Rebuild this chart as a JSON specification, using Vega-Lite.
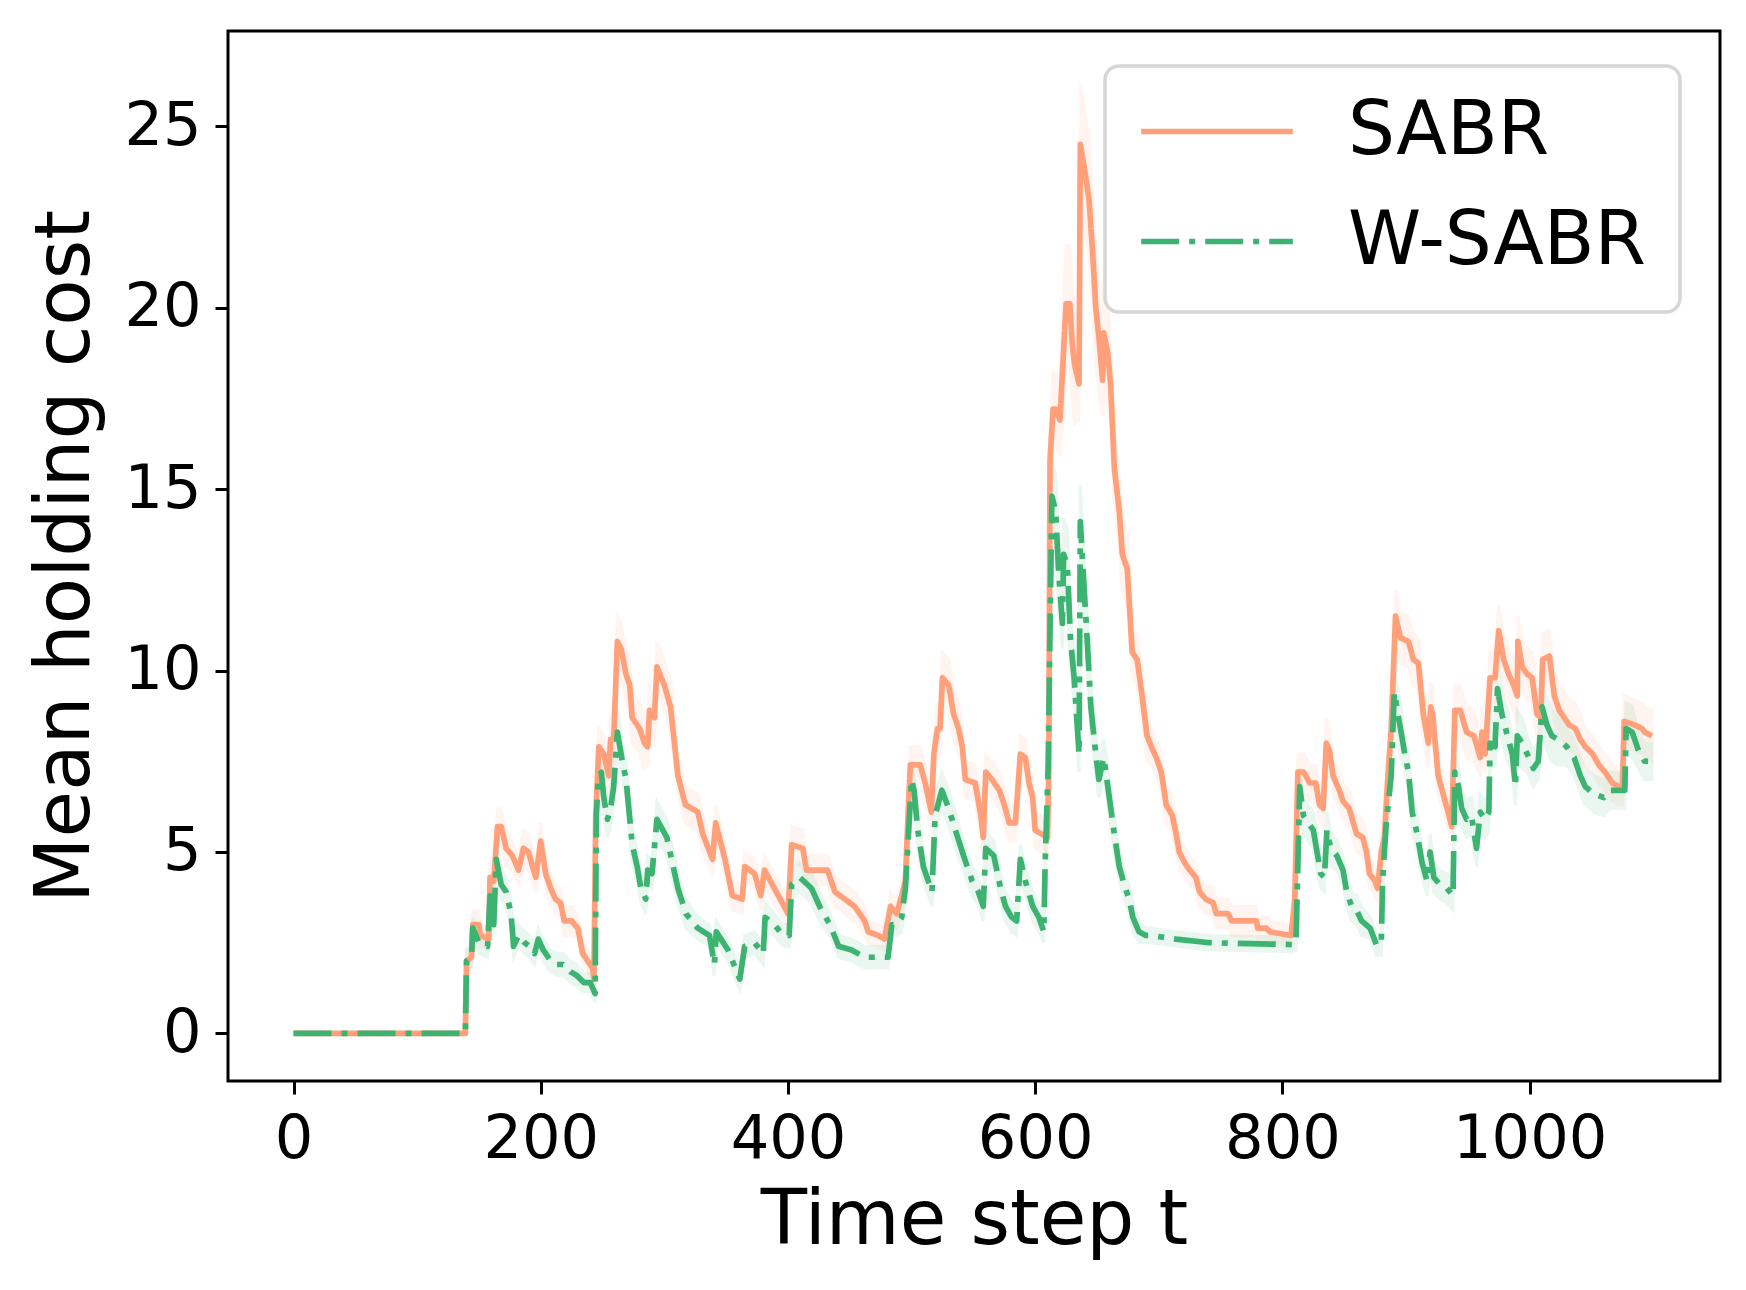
{
  "$schema": "https://vega.github.io/schema/vega-lite/v6.json",
  "width": 1492,
  "height": 1050,
  "autosize": "none",
  "padding": {"left": 228, "top": 31, "right": 26, "bottom": 209},
  "background": "white",
  "data": {
    "values": [
      {"m": "SABR", "t": 0, "v": 0, "lo": 0, "hi": 0},
      {"m": "SABR", "t": 139, "v": 0, "lo": 0, "hi": 0},
      {"m": "SABR", "t": 140, "v": 2.0, "lo": 1.7, "hi": 2.3},
      {"m": "SABR", "t": 144, "v": 2.1, "lo": 1.8, "hi": 2.4},
      {"m": "SABR", "t": 145, "v": 3.0, "lo": 2.6, "hi": 3.4},
      {"m": "SABR", "t": 150, "v": 3.0, "lo": 2.6, "hi": 3.4},
      {"m": "SABR", "t": 151, "v": 2.7, "lo": 2.4, "hi": 3.0},
      {"m": "SABR", "t": 158, "v": 2.6, "lo": 2.3, "hi": 2.9},
      {"m": "SABR", "t": 159, "v": 4.3, "lo": 3.9, "hi": 4.7},
      {"m": "SABR", "t": 162, "v": 4.2, "lo": 3.8, "hi": 4.6},
      {"m": "SABR", "t": 165, "v": 5.7, "lo": 5.2, "hi": 6.2},
      {"m": "SABR", "t": 168, "v": 5.7, "lo": 5.2, "hi": 6.2},
      {"m": "SABR", "t": 172, "v": 5.1, "lo": 4.6, "hi": 5.6},
      {"m": "SABR", "t": 177, "v": 4.9, "lo": 4.5, "hi": 5.3},
      {"m": "SABR", "t": 182, "v": 4.5, "lo": 4.1, "hi": 4.9},
      {"m": "SABR", "t": 186, "v": 5.1, "lo": 4.6, "hi": 5.6},
      {"m": "SABR", "t": 190, "v": 5.0, "lo": 4.5, "hi": 5.5},
      {"m": "SABR", "t": 196, "v": 4.3, "lo": 3.9, "hi": 4.7},
      {"m": "SABR", "t": 200, "v": 5.3, "lo": 4.8, "hi": 5.8},
      {"m": "SABR", "t": 204, "v": 4.4, "lo": 4.0, "hi": 4.8},
      {"m": "SABR", "t": 208, "v": 4.0, "lo": 3.6, "hi": 4.4},
      {"m": "SABR", "t": 212, "v": 3.7, "lo": 3.3, "hi": 4.1},
      {"m": "SABR", "t": 216, "v": 3.6, "lo": 3.2, "hi": 4.0},
      {"m": "SABR", "t": 219, "v": 3.1, "lo": 2.7, "hi": 3.5},
      {"m": "SABR", "t": 225, "v": 3.1, "lo": 2.7, "hi": 3.5},
      {"m": "SABR", "t": 230, "v": 2.9, "lo": 2.6, "hi": 3.2},
      {"m": "SABR", "t": 234, "v": 2.2, "lo": 1.9, "hi": 2.5},
      {"m": "SABR", "t": 238, "v": 2.0, "lo": 1.7, "hi": 2.3},
      {"m": "SABR", "t": 242, "v": 1.8, "lo": 1.5, "hi": 2.1},
      {"m": "SABR", "t": 243, "v": 1.5, "lo": 1.25, "hi": 1.75},
      {"m": "SABR", "t": 244.5, "v": 6.0, "lo": 5.5, "hi": 6.5},
      {"m": "SABR", "t": 247, "v": 7.9, "lo": 7.4, "hi": 8.4},
      {"m": "SABR", "t": 251, "v": 7.7, "lo": 7.2, "hi": 8.2},
      {"m": "SABR", "t": 255, "v": 7.1, "lo": 6.6, "hi": 7.6},
      {"m": "SABR", "t": 256.5, "v": 8.1, "lo": 7.4, "hi": 8.8},
      {"m": "SABR", "t": 259, "v": 8.1, "lo": 7.4, "hi": 8.8},
      {"m": "SABR", "t": 262, "v": 10.8, "lo": 10.1, "hi": 11.5},
      {"m": "SABR", "t": 265, "v": 10.6, "lo": 9.9, "hi": 11.3},
      {"m": "SABR", "t": 269, "v": 9.9, "lo": 9.2, "hi": 10.6},
      {"m": "SABR", "t": 272, "v": 9.6, "lo": 8.9, "hi": 10.3},
      {"m": "SABR", "t": 274, "v": 8.7, "lo": 8.0, "hi": 9.4},
      {"m": "SABR", "t": 280, "v": 8.4, "lo": 7.7, "hi": 9.1},
      {"m": "SABR", "t": 284, "v": 8.0, "lo": 7.3, "hi": 8.7},
      {"m": "SABR", "t": 286.5, "v": 7.9, "lo": 7.4, "hi": 8.4},
      {"m": "SABR", "t": 288, "v": 8.9, "lo": 8.2, "hi": 9.6},
      {"m": "SABR", "t": 292, "v": 8.7, "lo": 8.0, "hi": 9.4},
      {"m": "SABR", "t": 294, "v": 10.1, "lo": 9.4, "hi": 10.8},
      {"m": "SABR", "t": 300, "v": 9.6, "lo": 8.9, "hi": 10.3},
      {"m": "SABR", "t": 305, "v": 9.0, "lo": 8.3, "hi": 9.7},
      {"m": "SABR", "t": 311, "v": 7.1, "lo": 6.6, "hi": 7.6},
      {"m": "SABR", "t": 317, "v": 6.3, "lo": 5.8, "hi": 6.8},
      {"m": "SABR", "t": 327, "v": 6.1, "lo": 5.6, "hi": 6.6},
      {"m": "SABR", "t": 331, "v": 5.5, "lo": 5.0, "hi": 6.0},
      {"m": "SABR", "t": 339, "v": 4.8, "lo": 4.4, "hi": 5.2},
      {"m": "SABR", "t": 341.5, "v": 5.8, "lo": 5.3, "hi": 6.3},
      {"m": "SABR", "t": 349, "v": 4.8, "lo": 4.4, "hi": 5.2},
      {"m": "SABR", "t": 355, "v": 3.8, "lo": 3.4, "hi": 4.2},
      {"m": "SABR", "t": 363, "v": 3.7, "lo": 3.3, "hi": 4.1},
      {"m": "SABR", "t": 365, "v": 4.6, "lo": 4.2, "hi": 5.0},
      {"m": "SABR", "t": 373, "v": 4.4, "lo": 4.0, "hi": 4.8},
      {"m": "SABR", "t": 378, "v": 3.8, "lo": 3.4, "hi": 4.2},
      {"m": "SABR", "t": 381, "v": 4.5, "lo": 4.1, "hi": 4.9},
      {"m": "SABR", "t": 389, "v": 4.0, "lo": 3.6, "hi": 4.4},
      {"m": "SABR", "t": 397, "v": 3.5, "lo": 3.1, "hi": 3.9},
      {"m": "SABR", "t": 400, "v": 3.3, "lo": 2.9, "hi": 3.7},
      {"m": "SABR", "t": 403, "v": 5.2, "lo": 4.7, "hi": 5.7},
      {"m": "SABR", "t": 412, "v": 5.1, "lo": 4.6, "hi": 5.6},
      {"m": "SABR", "t": 415, "v": 4.5, "lo": 4.1, "hi": 4.9},
      {"m": "SABR", "t": 432, "v": 4.5, "lo": 4.1, "hi": 4.9},
      {"m": "SABR", "t": 438, "v": 3.9, "lo": 3.5, "hi": 4.3},
      {"m": "SABR", "t": 446, "v": 3.7, "lo": 3.3, "hi": 4.1},
      {"m": "SABR", "t": 454, "v": 3.5, "lo": 3.1, "hi": 3.9},
      {"m": "SABR", "t": 462, "v": 3.1, "lo": 2.7, "hi": 3.5},
      {"m": "SABR", "t": 465, "v": 2.8, "lo": 2.5, "hi": 3.1},
      {"m": "SABR", "t": 473, "v": 2.7, "lo": 2.4, "hi": 3.0},
      {"m": "SABR", "t": 478, "v": 2.6, "lo": 2.3, "hi": 2.9},
      {"m": "SABR", "t": 483, "v": 3.5, "lo": 3.1, "hi": 3.9},
      {"m": "SABR", "t": 488, "v": 3.3, "lo": 2.9, "hi": 3.7},
      {"m": "SABR", "t": 492, "v": 3.8, "lo": 3.4, "hi": 4.2},
      {"m": "SABR", "t": 495, "v": 4.2, "lo": 3.8, "hi": 4.6},
      {"m": "SABR", "t": 497, "v": 5.9, "lo": 5.4, "hi": 6.4},
      {"m": "SABR", "t": 499, "v": 7.4, "lo": 6.9, "hi": 7.9},
      {"m": "SABR", "t": 507, "v": 7.4, "lo": 6.9, "hi": 7.9},
      {"m": "SABR", "t": 511, "v": 6.9, "lo": 6.4, "hi": 7.4},
      {"m": "SABR", "t": 516, "v": 6.1, "lo": 5.6, "hi": 6.6},
      {"m": "SABR", "t": 518, "v": 7.7, "lo": 7.2, "hi": 8.2},
      {"m": "SABR", "t": 521, "v": 8.4, "lo": 7.7, "hi": 9.1},
      {"m": "SABR", "t": 523, "v": 8.4, "lo": 7.7, "hi": 9.1},
      {"m": "SABR", "t": 525, "v": 9.8, "lo": 9.1, "hi": 10.5},
      {"m": "SABR", "t": 530, "v": 9.6, "lo": 8.9, "hi": 10.3},
      {"m": "SABR", "t": 534, "v": 8.8, "lo": 8.1, "hi": 9.5},
      {"m": "SABR", "t": 538, "v": 8.4, "lo": 7.7, "hi": 9.1},
      {"m": "SABR", "t": 541, "v": 7.9, "lo": 7.4, "hi": 8.4},
      {"m": "SABR", "t": 543.5, "v": 7.0, "lo": 6.5, "hi": 7.5},
      {"m": "SABR", "t": 551.5, "v": 6.9, "lo": 6.4, "hi": 7.4},
      {"m": "SABR", "t": 556, "v": 6.0, "lo": 5.5, "hi": 6.5},
      {"m": "SABR", "t": 558, "v": 5.4, "lo": 4.9, "hi": 5.9},
      {"m": "SABR", "t": 560, "v": 7.2, "lo": 6.7, "hi": 7.7},
      {"m": "SABR", "t": 565, "v": 7.0, "lo": 6.5, "hi": 7.5},
      {"m": "SABR", "t": 571, "v": 6.7, "lo": 6.2, "hi": 7.2},
      {"m": "SABR", "t": 575, "v": 6.3, "lo": 5.8, "hi": 6.8},
      {"m": "SABR", "t": 579, "v": 5.8, "lo": 5.3, "hi": 6.3},
      {"m": "SABR", "t": 584, "v": 5.8, "lo": 5.3, "hi": 6.3},
      {"m": "SABR", "t": 588, "v": 7.7, "lo": 7.2, "hi": 8.2},
      {"m": "SABR", "t": 592, "v": 7.6, "lo": 7.1, "hi": 8.1},
      {"m": "SABR", "t": 595, "v": 6.9, "lo": 6.4, "hi": 7.4},
      {"m": "SABR", "t": 598, "v": 6.5, "lo": 6.0, "hi": 7.0},
      {"m": "SABR", "t": 600, "v": 5.6, "lo": 5.1, "hi": 6.1},
      {"m": "SABR", "t": 610, "v": 5.4, "lo": 4.9, "hi": 5.9},
      {"m": "SABR", "t": 611, "v": 7.2, "lo": 6.7, "hi": 7.7},
      {"m": "SABR", "t": 612, "v": 15.8, "lo": 14.8, "hi": 16.8},
      {"m": "SABR", "t": 614.5, "v": 17.2, "lo": 16.2, "hi": 18.2},
      {"m": "SABR", "t": 617, "v": 17.2, "lo": 16.2, "hi": 18.2},
      {"m": "SABR", "t": 620, "v": 16.9, "lo": 15.9, "hi": 17.9},
      {"m": "SABR", "t": 622.5, "v": 18.5, "lo": 16.9, "hi": 20.1},
      {"m": "SABR", "t": 625, "v": 20.1, "lo": 18.5, "hi": 21.7},
      {"m": "SABR", "t": 628, "v": 20.1, "lo": 18.5, "hi": 21.7},
      {"m": "SABR", "t": 630, "v": 19.0, "lo": 17.4, "hi": 20.6},
      {"m": "SABR", "t": 632, "v": 18.4, "lo": 16.8, "hi": 20.0},
      {"m": "SABR", "t": 635.5, "v": 17.9, "lo": 16.9, "hi": 18.9},
      {"m": "SABR", "t": 636.5, "v": 24.5, "lo": 22.9, "hi": 26.1},
      {"m": "SABR", "t": 639.5, "v": 23.9, "lo": 22.3, "hi": 25.5},
      {"m": "SABR", "t": 643.5, "v": 23.0, "lo": 21.4, "hi": 24.6},
      {"m": "SABR", "t": 646.5, "v": 21.5, "lo": 19.9, "hi": 23.1},
      {"m": "SABR", "t": 649, "v": 20.0, "lo": 18.4, "hi": 21.6},
      {"m": "SABR", "t": 651.5, "v": 19.2, "lo": 17.6, "hi": 20.8},
      {"m": "SABR", "t": 654.5, "v": 18.0, "lo": 17.0, "hi": 19.0},
      {"m": "SABR", "t": 655.5, "v": 19.3, "lo": 17.7, "hi": 20.9},
      {"m": "SABR", "t": 658.5, "v": 18.8, "lo": 17.2, "hi": 20.4},
      {"m": "SABR", "t": 661, "v": 17.9, "lo": 16.9, "hi": 18.9},
      {"m": "SABR", "t": 664, "v": 15.6, "lo": 14.6, "hi": 16.6},
      {"m": "SABR", "t": 668, "v": 14.4, "lo": 13.4, "hi": 15.4},
      {"m": "SABR", "t": 670.5, "v": 13.2, "lo": 12.2, "hi": 14.2},
      {"m": "SABR", "t": 674.5, "v": 12.8, "lo": 11.8, "hi": 13.8},
      {"m": "SABR", "t": 678.5, "v": 10.5, "lo": 9.8, "hi": 11.2},
      {"m": "SABR", "t": 682.5, "v": 10.3, "lo": 9.6, "hi": 11.0},
      {"m": "SABR", "t": 686.5, "v": 9.3, "lo": 8.6, "hi": 10.0},
      {"m": "SABR", "t": 690.5, "v": 8.2, "lo": 7.5, "hi": 8.9},
      {"m": "SABR", "t": 694, "v": 7.9, "lo": 7.4, "hi": 8.4},
      {"m": "SABR", "t": 698, "v": 7.6, "lo": 7.1, "hi": 8.1},
      {"m": "SABR", "t": 702, "v": 7.2, "lo": 6.7, "hi": 7.7},
      {"m": "SABR", "t": 706, "v": 6.3, "lo": 5.8, "hi": 6.8},
      {"m": "SABR", "t": 711, "v": 6.0, "lo": 5.5, "hi": 6.5},
      {"m": "SABR", "t": 714, "v": 5.5, "lo": 5.0, "hi": 6.0},
      {"m": "SABR", "t": 716.5, "v": 5.0, "lo": 4.5, "hi": 5.5},
      {"m": "SABR", "t": 721, "v": 4.7, "lo": 4.3, "hi": 5.1},
      {"m": "SABR", "t": 725, "v": 4.5, "lo": 4.1, "hi": 4.9},
      {"m": "SABR", "t": 730, "v": 4.3, "lo": 3.9, "hi": 4.7},
      {"m": "SABR", "t": 733, "v": 3.9, "lo": 3.5, "hi": 4.3},
      {"m": "SABR", "t": 738, "v": 3.7, "lo": 3.3, "hi": 4.1},
      {"m": "SABR", "t": 744, "v": 3.6, "lo": 3.2, "hi": 4.0},
      {"m": "SABR", "t": 746.5, "v": 3.3, "lo": 2.9, "hi": 3.7},
      {"m": "SABR", "t": 756, "v": 3.3, "lo": 2.9, "hi": 3.7},
      {"m": "SABR", "t": 759, "v": 3.1, "lo": 2.7, "hi": 3.5},
      {"m": "SABR", "t": 779, "v": 3.1, "lo": 2.7, "hi": 3.5},
      {"m": "SABR", "t": 780, "v": 2.9, "lo": 2.6, "hi": 3.2},
      {"m": "SABR", "t": 787, "v": 2.9, "lo": 2.6, "hi": 3.2},
      {"m": "SABR", "t": 790, "v": 2.8, "lo": 2.5, "hi": 3.1},
      {"m": "SABR", "t": 807, "v": 2.7, "lo": 2.4, "hi": 3.0},
      {"m": "SABR", "t": 810, "v": 3.7, "lo": 3.3, "hi": 4.1},
      {"m": "SABR", "t": 812.5, "v": 7.2, "lo": 6.7, "hi": 7.7},
      {"m": "SABR", "t": 817, "v": 7.2, "lo": 6.7, "hi": 7.7},
      {"m": "SABR", "t": 819, "v": 7.1, "lo": 6.6, "hi": 7.6},
      {"m": "SABR", "t": 822, "v": 6.9, "lo": 6.4, "hi": 7.4},
      {"m": "SABR", "t": 827, "v": 6.9, "lo": 6.4, "hi": 7.4},
      {"m": "SABR", "t": 830, "v": 6.3, "lo": 5.8, "hi": 6.8},
      {"m": "SABR", "t": 833, "v": 6.2, "lo": 5.7, "hi": 6.7},
      {"m": "SABR", "t": 835.5, "v": 8.0, "lo": 7.3, "hi": 8.7},
      {"m": "SABR", "t": 838, "v": 7.8, "lo": 7.3, "hi": 8.3},
      {"m": "SABR", "t": 841, "v": 7.1, "lo": 6.6, "hi": 7.6},
      {"m": "SABR", "t": 846, "v": 6.7, "lo": 6.2, "hi": 7.2},
      {"m": "SABR", "t": 849, "v": 6.4, "lo": 5.9, "hi": 6.9},
      {"m": "SABR", "t": 854, "v": 6.2, "lo": 5.7, "hi": 6.7},
      {"m": "SABR", "t": 860, "v": 5.5, "lo": 5.0, "hi": 6.0},
      {"m": "SABR", "t": 865, "v": 5.4, "lo": 4.9, "hi": 5.9},
      {"m": "SABR", "t": 868, "v": 5.0, "lo": 4.5, "hi": 5.5},
      {"m": "SABR", "t": 870.5, "v": 4.4, "lo": 4.0, "hi": 4.8},
      {"m": "SABR", "t": 875, "v": 4.2, "lo": 3.8, "hi": 4.6},
      {"m": "SABR", "t": 877, "v": 4.0, "lo": 3.6, "hi": 4.4},
      {"m": "SABR", "t": 880, "v": 5.0, "lo": 4.5, "hi": 5.5},
      {"m": "SABR", "t": 882.5, "v": 5.4, "lo": 4.9, "hi": 5.9},
      {"m": "SABR", "t": 885, "v": 6.9, "lo": 6.4, "hi": 7.4},
      {"m": "SABR", "t": 888, "v": 8.4, "lo": 7.7, "hi": 9.1},
      {"m": "SABR", "t": 891.5, "v": 11.5, "lo": 10.8, "hi": 12.2},
      {"m": "SABR", "t": 895.5, "v": 10.9, "lo": 10.2, "hi": 11.6},
      {"m": "SABR", "t": 902, "v": 10.8, "lo": 10.1, "hi": 11.5},
      {"m": "SABR", "t": 906, "v": 10.3, "lo": 9.6, "hi": 11.0},
      {"m": "SABR", "t": 910, "v": 10.2, "lo": 9.5, "hi": 10.9},
      {"m": "SABR", "t": 914, "v": 8.8, "lo": 8.1, "hi": 9.5},
      {"m": "SABR", "t": 918, "v": 8.0, "lo": 7.3, "hi": 8.7},
      {"m": "SABR", "t": 920, "v": 9.0, "lo": 8.3, "hi": 9.7},
      {"m": "SABR", "t": 921.5, "v": 8.8, "lo": 8.1, "hi": 9.5},
      {"m": "SABR", "t": 926, "v": 7.1, "lo": 6.6, "hi": 7.6},
      {"m": "SABR", "t": 930, "v": 6.6, "lo": 6.1, "hi": 7.1},
      {"m": "SABR", "t": 934, "v": 6.1, "lo": 5.6, "hi": 6.6},
      {"m": "SABR", "t": 937, "v": 5.7, "lo": 5.2, "hi": 6.2},
      {"m": "SABR", "t": 939.5, "v": 8.9, "lo": 8.2, "hi": 9.6},
      {"m": "SABR", "t": 944, "v": 8.9, "lo": 8.2, "hi": 9.6},
      {"m": "SABR", "t": 949, "v": 8.3, "lo": 7.6, "hi": 9.0},
      {"m": "SABR", "t": 955, "v": 8.2, "lo": 7.5, "hi": 8.9},
      {"m": "SABR", "t": 960, "v": 7.6, "lo": 7.1, "hi": 8.1},
      {"m": "SABR", "t": 961.5, "v": 8.3, "lo": 7.6, "hi": 9.0},
      {"m": "SABR", "t": 964, "v": 7.7, "lo": 7.2, "hi": 8.2},
      {"m": "SABR", "t": 968, "v": 9.8, "lo": 9.1, "hi": 10.5},
      {"m": "SABR", "t": 972, "v": 9.8, "lo": 9.1, "hi": 10.5},
      {"m": "SABR", "t": 975, "v": 11.1, "lo": 10.4, "hi": 11.8},
      {"m": "SABR", "t": 979, "v": 10.3, "lo": 9.6, "hi": 11.0},
      {"m": "SABR", "t": 983, "v": 9.9, "lo": 9.2, "hi": 10.6},
      {"m": "SABR", "t": 987, "v": 9.6, "lo": 8.9, "hi": 10.3},
      {"m": "SABR", "t": 990, "v": 9.3, "lo": 8.6, "hi": 10.0},
      {"m": "SABR", "t": 990.5, "v": 10.8, "lo": 10.1, "hi": 11.5},
      {"m": "SABR", "t": 994, "v": 10.1, "lo": 9.4, "hi": 10.8},
      {"m": "SABR", "t": 998, "v": 9.9, "lo": 9.2, "hi": 10.6},
      {"m": "SABR", "t": 1002, "v": 9.8, "lo": 9.1, "hi": 10.5},
      {"m": "SABR", "t": 1006, "v": 8.8, "lo": 8.1, "hi": 9.5},
      {"m": "SABR", "t": 1009, "v": 8.7, "lo": 8.0, "hi": 9.4},
      {"m": "SABR", "t": 1010.5, "v": 10.3, "lo": 9.6, "hi": 11.0},
      {"m": "SABR", "t": 1016, "v": 10.4, "lo": 9.7, "hi": 11.1},
      {"m": "SABR", "t": 1018.5, "v": 9.7, "lo": 9.0, "hi": 10.4},
      {"m": "SABR", "t": 1020, "v": 9.3, "lo": 8.6, "hi": 10.0},
      {"m": "SABR", "t": 1024, "v": 8.9, "lo": 8.2, "hi": 9.6},
      {"m": "SABR", "t": 1028, "v": 8.7, "lo": 8.0, "hi": 9.4},
      {"m": "SABR", "t": 1032, "v": 8.5, "lo": 7.8, "hi": 9.2},
      {"m": "SABR", "t": 1037, "v": 8.4, "lo": 7.7, "hi": 9.1},
      {"m": "SABR", "t": 1041, "v": 8.1, "lo": 7.4, "hi": 8.8},
      {"m": "SABR", "t": 1045, "v": 7.9, "lo": 7.4, "hi": 8.4},
      {"m": "SABR", "t": 1051, "v": 7.7, "lo": 7.2, "hi": 8.2},
      {"m": "SABR", "t": 1056, "v": 7.4, "lo": 6.9, "hi": 7.9},
      {"m": "SABR", "t": 1061, "v": 7.2, "lo": 6.7, "hi": 7.7},
      {"m": "SABR", "t": 1067, "v": 6.9, "lo": 6.4, "hi": 7.4},
      {"m": "SABR", "t": 1072, "v": 6.8, "lo": 6.3, "hi": 7.3},
      {"m": "SABR", "t": 1075, "v": 6.8, "lo": 6.3, "hi": 7.3},
      {"m": "SABR", "t": 1076.5, "v": 8.6, "lo": 7.9, "hi": 9.3},
      {"m": "SABR", "t": 1085, "v": 8.5, "lo": 7.8, "hi": 9.2},
      {"m": "SABR", "t": 1091, "v": 8.4, "lo": 7.7, "hi": 9.1},
      {"m": "SABR", "t": 1093, "v": 8.3, "lo": 7.6, "hi": 9.0},
      {"m": "SABR", "t": 1099, "v": 8.2, "lo": 7.5, "hi": 8.9},
      {"m": "W-SABR", "t": 0, "v": 0, "lo": 0, "hi": 0},
      {"m": "W-SABR", "t": 139, "v": 0, "lo": 0, "hi": 0},
      {"m": "W-SABR", "t": 140, "v": 2.0, "lo": 1.7, "hi": 2.3},
      {"m": "W-SABR", "t": 144, "v": 2.1, "lo": 1.8, "hi": 2.4},
      {"m": "W-SABR", "t": 145, "v": 2.9, "lo": 2.6, "hi": 3.2},
      {"m": "W-SABR", "t": 150, "v": 2.5, "lo": 2.2, "hi": 2.8},
      {"m": "W-SABR", "t": 157, "v": 2.4, "lo": 2.1, "hi": 2.7},
      {"m": "W-SABR", "t": 159, "v": 3.8, "lo": 3.4, "hi": 4.2},
      {"m": "W-SABR", "t": 162, "v": 3.0, "lo": 2.7, "hi": 3.3},
      {"m": "W-SABR", "t": 164, "v": 4.8, "lo": 4.4, "hi": 5.2},
      {"m": "W-SABR", "t": 168, "v": 4.1, "lo": 3.7, "hi": 4.5},
      {"m": "W-SABR", "t": 172, "v": 3.9, "lo": 3.5, "hi": 4.3},
      {"m": "W-SABR", "t": 176, "v": 3.3, "lo": 2.9, "hi": 3.7},
      {"m": "W-SABR", "t": 178, "v": 2.4, "lo": 2.1, "hi": 2.7},
      {"m": "W-SABR", "t": 182, "v": 2.7, "lo": 2.4, "hi": 3.0},
      {"m": "W-SABR", "t": 187, "v": 2.5, "lo": 2.2, "hi": 2.8},
      {"m": "W-SABR", "t": 191, "v": 2.4, "lo": 2.1, "hi": 2.7},
      {"m": "W-SABR", "t": 195, "v": 2.2, "lo": 1.9, "hi": 2.5},
      {"m": "W-SABR", "t": 198, "v": 2.6, "lo": 2.3, "hi": 2.9},
      {"m": "W-SABR", "t": 202, "v": 2.3, "lo": 2.0, "hi": 2.6},
      {"m": "W-SABR", "t": 208, "v": 2.0, "lo": 1.7, "hi": 2.3},
      {"m": "W-SABR", "t": 213, "v": 1.9, "lo": 1.6, "hi": 2.2},
      {"m": "W-SABR", "t": 218, "v": 1.9, "lo": 1.6, "hi": 2.2},
      {"m": "W-SABR", "t": 224, "v": 1.7, "lo": 1.4, "hi": 2.0},
      {"m": "W-SABR", "t": 229, "v": 1.6, "lo": 1.3, "hi": 1.9},
      {"m": "W-SABR", "t": 235, "v": 1.4, "lo": 1.15, "hi": 1.65},
      {"m": "W-SABR", "t": 240, "v": 1.4, "lo": 1.15, "hi": 1.65},
      {"m": "W-SABR", "t": 244, "v": 1.1, "lo": 0.85, "hi": 1.35},
      {"m": "W-SABR", "t": 245, "v": 6.0, "lo": 5.5, "hi": 6.5},
      {"m": "W-SABR", "t": 246.5, "v": 7.0, "lo": 6.5, "hi": 7.5},
      {"m": "W-SABR", "t": 249, "v": 7.2, "lo": 6.7, "hi": 7.7},
      {"m": "W-SABR", "t": 251, "v": 6.5, "lo": 6.0, "hi": 7.0},
      {"m": "W-SABR", "t": 254, "v": 5.9, "lo": 5.4, "hi": 6.4},
      {"m": "W-SABR", "t": 256.5, "v": 6.2, "lo": 5.7, "hi": 6.7},
      {"m": "W-SABR", "t": 259, "v": 6.8, "lo": 6.3, "hi": 7.3},
      {"m": "W-SABR", "t": 262, "v": 8.3, "lo": 7.6, "hi": 9.0},
      {"m": "W-SABR", "t": 266, "v": 7.5, "lo": 7.0, "hi": 8.0},
      {"m": "W-SABR", "t": 269, "v": 7.0, "lo": 6.5, "hi": 7.5},
      {"m": "W-SABR", "t": 271.5, "v": 6.1, "lo": 5.6, "hi": 6.6},
      {"m": "W-SABR", "t": 274, "v": 5.2, "lo": 4.7, "hi": 5.7},
      {"m": "W-SABR", "t": 278, "v": 4.6, "lo": 4.2, "hi": 5.0},
      {"m": "W-SABR", "t": 281, "v": 4.0, "lo": 3.6, "hi": 4.4},
      {"m": "W-SABR", "t": 285, "v": 3.7, "lo": 3.3, "hi": 4.1},
      {"m": "W-SABR", "t": 286.5, "v": 4.5, "lo": 4.1, "hi": 4.9},
      {"m": "W-SABR", "t": 290, "v": 4.4, "lo": 4.0, "hi": 4.8},
      {"m": "W-SABR", "t": 294, "v": 5.9, "lo": 5.4, "hi": 6.4},
      {"m": "W-SABR", "t": 302, "v": 5.4, "lo": 4.9, "hi": 5.9},
      {"m": "W-SABR", "t": 311, "v": 4.0, "lo": 3.6, "hi": 4.4},
      {"m": "W-SABR", "t": 317.5, "v": 3.3, "lo": 2.9, "hi": 3.7},
      {"m": "W-SABR", "t": 327, "v": 2.9, "lo": 2.6, "hi": 3.2},
      {"m": "W-SABR", "t": 336.5, "v": 2.7, "lo": 2.4, "hi": 3.0},
      {"m": "W-SABR", "t": 340.5, "v": 1.9, "lo": 1.6, "hi": 2.2},
      {"m": "W-SABR", "t": 342, "v": 2.8, "lo": 2.5, "hi": 3.1},
      {"m": "W-SABR", "t": 351.5, "v": 2.3, "lo": 2.0, "hi": 2.6},
      {"m": "W-SABR", "t": 361, "v": 1.5, "lo": 1.2, "hi": 1.8},
      {"m": "W-SABR", "t": 365, "v": 2.4, "lo": 2.1, "hi": 2.7},
      {"m": "W-SABR", "t": 373, "v": 2.5, "lo": 2.2, "hi": 2.8},
      {"m": "W-SABR", "t": 380, "v": 2.2, "lo": 1.9, "hi": 2.5},
      {"m": "W-SABR", "t": 381.5, "v": 3.2, "lo": 2.8, "hi": 3.6},
      {"m": "W-SABR", "t": 389, "v": 3.0, "lo": 2.7, "hi": 3.3},
      {"m": "W-SABR", "t": 396, "v": 2.7, "lo": 2.4, "hi": 3.0},
      {"m": "W-SABR", "t": 401, "v": 2.7, "lo": 2.4, "hi": 3.0},
      {"m": "W-SABR", "t": 403, "v": 4.1, "lo": 3.7, "hi": 4.5},
      {"m": "W-SABR", "t": 409.5, "v": 4.3, "lo": 3.9, "hi": 4.7},
      {"m": "W-SABR", "t": 419, "v": 4.0, "lo": 3.6, "hi": 4.4},
      {"m": "W-SABR", "t": 427, "v": 3.4, "lo": 3.0, "hi": 3.8},
      {"m": "W-SABR", "t": 434, "v": 3.0, "lo": 2.7, "hi": 3.3},
      {"m": "W-SABR", "t": 441, "v": 2.4, "lo": 2.1, "hi": 2.7},
      {"m": "W-SABR", "t": 451.5, "v": 2.3, "lo": 2.0, "hi": 2.6},
      {"m": "W-SABR", "t": 462, "v": 2.1, "lo": 1.8, "hi": 2.4},
      {"m": "W-SABR", "t": 481, "v": 2.1, "lo": 1.8, "hi": 2.4},
      {"m": "W-SABR", "t": 484, "v": 3.0, "lo": 2.7, "hi": 3.3},
      {"m": "W-SABR", "t": 488, "v": 3.0, "lo": 2.7, "hi": 3.3},
      {"m": "W-SABR", "t": 492, "v": 3.2, "lo": 2.8, "hi": 3.6},
      {"m": "W-SABR", "t": 495, "v": 4.0, "lo": 3.6, "hi": 4.4},
      {"m": "W-SABR", "t": 497.5, "v": 5.5, "lo": 5.0, "hi": 6.0},
      {"m": "W-SABR", "t": 500, "v": 7.0, "lo": 6.5, "hi": 7.5},
      {"m": "W-SABR", "t": 502, "v": 6.7, "lo": 6.2, "hi": 7.2},
      {"m": "W-SABR", "t": 505, "v": 5.6, "lo": 5.1, "hi": 6.1},
      {"m": "W-SABR", "t": 509.5, "v": 4.6, "lo": 4.2, "hi": 5.0},
      {"m": "W-SABR", "t": 516.5, "v": 3.9, "lo": 3.5, "hi": 4.3},
      {"m": "W-SABR", "t": 519, "v": 6.0, "lo": 5.5, "hi": 6.5},
      {"m": "W-SABR", "t": 524.5, "v": 6.7, "lo": 6.2, "hi": 7.2},
      {"m": "W-SABR", "t": 530, "v": 6.2, "lo": 5.7, "hi": 6.7},
      {"m": "W-SABR", "t": 535.5, "v": 5.6, "lo": 5.1, "hi": 6.1},
      {"m": "W-SABR", "t": 542, "v": 4.9, "lo": 4.5, "hi": 5.3},
      {"m": "W-SABR", "t": 549, "v": 4.2, "lo": 3.8, "hi": 4.6},
      {"m": "W-SABR", "t": 554, "v": 3.9, "lo": 3.5, "hi": 4.3},
      {"m": "W-SABR", "t": 558, "v": 3.5, "lo": 3.1, "hi": 3.9},
      {"m": "W-SABR", "t": 560, "v": 5.1, "lo": 4.6, "hi": 5.6},
      {"m": "W-SABR", "t": 566.5, "v": 4.9, "lo": 4.5, "hi": 5.3},
      {"m": "W-SABR", "t": 572, "v": 4.0, "lo": 3.6, "hi": 4.4},
      {"m": "W-SABR", "t": 576, "v": 3.5, "lo": 3.1, "hi": 3.9},
      {"m": "W-SABR", "t": 581, "v": 3.2, "lo": 2.8, "hi": 3.6},
      {"m": "W-SABR", "t": 585, "v": 3.1, "lo": 2.7, "hi": 3.5},
      {"m": "W-SABR", "t": 588, "v": 4.8, "lo": 4.4, "hi": 5.2},
      {"m": "W-SABR", "t": 592, "v": 4.2, "lo": 3.8, "hi": 4.6},
      {"m": "W-SABR", "t": 598, "v": 3.5, "lo": 3.1, "hi": 3.9},
      {"m": "W-SABR", "t": 603, "v": 3.2, "lo": 2.8, "hi": 3.6},
      {"m": "W-SABR", "t": 607, "v": 2.8, "lo": 2.5, "hi": 3.1},
      {"m": "W-SABR", "t": 608, "v": 4.6, "lo": 4.2, "hi": 5.0},
      {"m": "W-SABR", "t": 610.5, "v": 7.4, "lo": 6.9, "hi": 7.9},
      {"m": "W-SABR", "t": 613.5, "v": 14.8, "lo": 13.8, "hi": 15.8},
      {"m": "W-SABR", "t": 616.5, "v": 14.4, "lo": 13.4, "hi": 15.4},
      {"m": "W-SABR", "t": 619, "v": 12.7, "lo": 11.7, "hi": 13.7},
      {"m": "W-SABR", "t": 622, "v": 11.3, "lo": 10.6, "hi": 12.0},
      {"m": "W-SABR", "t": 623, "v": 13.2, "lo": 12.2, "hi": 14.2},
      {"m": "W-SABR", "t": 626, "v": 12.9, "lo": 11.9, "hi": 13.9},
      {"m": "W-SABR", "t": 628.5, "v": 10.9, "lo": 10.2, "hi": 11.6},
      {"m": "W-SABR", "t": 631.5, "v": 9.8, "lo": 9.1, "hi": 10.5},
      {"m": "W-SABR", "t": 635.5, "v": 7.7, "lo": 7.2, "hi": 8.2},
      {"m": "W-SABR", "t": 636.5, "v": 14.1, "lo": 13.1, "hi": 15.1},
      {"m": "W-SABR", "t": 639.5, "v": 12.3, "lo": 11.3, "hi": 13.3},
      {"m": "W-SABR", "t": 642, "v": 10.9, "lo": 10.2, "hi": 11.6},
      {"m": "W-SABR", "t": 645, "v": 9.0, "lo": 8.3, "hi": 9.7},
      {"m": "W-SABR", "t": 649, "v": 7.7, "lo": 7.2, "hi": 8.2},
      {"m": "W-SABR", "t": 651.5, "v": 7.0, "lo": 6.5, "hi": 7.5},
      {"m": "W-SABR", "t": 655.5, "v": 7.6, "lo": 7.1, "hi": 8.1},
      {"m": "W-SABR", "t": 660, "v": 6.5, "lo": 6.0, "hi": 7.0},
      {"m": "W-SABR", "t": 664, "v": 5.5, "lo": 5.0, "hi": 6.0},
      {"m": "W-SABR", "t": 668, "v": 4.6, "lo": 4.2, "hi": 5.0},
      {"m": "W-SABR", "t": 672, "v": 4.1, "lo": 3.7, "hi": 4.5},
      {"m": "W-SABR", "t": 676, "v": 3.7, "lo": 3.3, "hi": 4.1},
      {"m": "W-SABR", "t": 679, "v": 3.2, "lo": 2.8, "hi": 3.6},
      {"m": "W-SABR", "t": 684, "v": 2.8, "lo": 2.5, "hi": 3.1},
      {"m": "W-SABR", "t": 689.5, "v": 2.7, "lo": 2.5, "hi": 2.9},
      {"m": "W-SABR", "t": 694, "v": 2.7, "lo": 2.5, "hi": 2.9},
      {"m": "W-SABR", "t": 714, "v": 2.6, "lo": 2.4, "hi": 2.8},
      {"m": "W-SABR", "t": 741, "v": 2.5, "lo": 2.3, "hi": 2.7},
      {"m": "W-SABR", "t": 808, "v": 2.45, "lo": 2.25, "hi": 2.65},
      {"m": "W-SABR", "t": 811, "v": 2.5, "lo": 2.3, "hi": 2.7},
      {"m": "W-SABR", "t": 814, "v": 6.8, "lo": 6.3, "hi": 7.3},
      {"m": "W-SABR", "t": 817, "v": 6.0, "lo": 5.5, "hi": 6.5},
      {"m": "W-SABR", "t": 821, "v": 5.8, "lo": 5.3, "hi": 6.3},
      {"m": "W-SABR", "t": 825, "v": 5.6, "lo": 5.1, "hi": 6.1},
      {"m": "W-SABR", "t": 828, "v": 5.0, "lo": 4.5, "hi": 5.5},
      {"m": "W-SABR", "t": 831, "v": 4.4, "lo": 4.0, "hi": 4.8},
      {"m": "W-SABR", "t": 834, "v": 4.3, "lo": 3.9, "hi": 4.7},
      {"m": "W-SABR", "t": 836, "v": 5.6, "lo": 5.1, "hi": 6.1},
      {"m": "W-SABR", "t": 839, "v": 5.1, "lo": 4.6, "hi": 5.6},
      {"m": "W-SABR", "t": 844, "v": 4.9, "lo": 4.5, "hi": 5.3},
      {"m": "W-SABR", "t": 849, "v": 4.5, "lo": 4.1, "hi": 4.9},
      {"m": "W-SABR", "t": 852, "v": 3.9, "lo": 3.5, "hi": 4.3},
      {"m": "W-SABR", "t": 856, "v": 3.5, "lo": 3.1, "hi": 3.9},
      {"m": "W-SABR", "t": 860, "v": 3.4, "lo": 3.0, "hi": 3.8},
      {"m": "W-SABR", "t": 864, "v": 3.1, "lo": 2.7, "hi": 3.5},
      {"m": "W-SABR", "t": 871, "v": 2.9, "lo": 2.6, "hi": 3.2},
      {"m": "W-SABR", "t": 876, "v": 2.45, "lo": 2.15, "hi": 2.75},
      {"m": "W-SABR", "t": 880, "v": 2.45, "lo": 2.15, "hi": 2.75},
      {"m": "W-SABR", "t": 881, "v": 4.2, "lo": 3.8, "hi": 4.6},
      {"m": "W-SABR", "t": 884, "v": 5.8, "lo": 5.3, "hi": 6.3},
      {"m": "W-SABR", "t": 888, "v": 7.1, "lo": 6.6, "hi": 7.6},
      {"m": "W-SABR", "t": 890.5, "v": 9.4, "lo": 8.7, "hi": 10.1},
      {"m": "W-SABR", "t": 893.5, "v": 8.8, "lo": 8.1, "hi": 9.5},
      {"m": "W-SABR", "t": 896.5, "v": 8.2, "lo": 7.5, "hi": 8.9},
      {"m": "W-SABR", "t": 899, "v": 7.7, "lo": 7.2, "hi": 8.2},
      {"m": "W-SABR", "t": 902, "v": 7.2, "lo": 6.7, "hi": 7.7},
      {"m": "W-SABR", "t": 905, "v": 6.1, "lo": 5.6, "hi": 6.6},
      {"m": "W-SABR", "t": 909, "v": 5.5, "lo": 5.0, "hi": 6.0},
      {"m": "W-SABR", "t": 913, "v": 4.7, "lo": 4.3, "hi": 5.1},
      {"m": "W-SABR", "t": 917, "v": 4.2, "lo": 3.8, "hi": 4.6},
      {"m": "W-SABR", "t": 919.5, "v": 5.0, "lo": 4.5, "hi": 5.5},
      {"m": "W-SABR", "t": 922.5, "v": 4.3, "lo": 3.9, "hi": 4.7},
      {"m": "W-SABR", "t": 927.5, "v": 4.1, "lo": 3.7, "hi": 4.5},
      {"m": "W-SABR", "t": 933, "v": 4.0, "lo": 3.6, "hi": 4.4},
      {"m": "W-SABR", "t": 938, "v": 3.8, "lo": 3.4, "hi": 4.2},
      {"m": "W-SABR", "t": 939.5, "v": 7.2, "lo": 6.7, "hi": 7.7},
      {"m": "W-SABR", "t": 942.5, "v": 6.8, "lo": 6.3, "hi": 7.3},
      {"m": "W-SABR", "t": 945, "v": 6.2, "lo": 5.7, "hi": 6.7},
      {"m": "W-SABR", "t": 949, "v": 5.9, "lo": 5.4, "hi": 6.4},
      {"m": "W-SABR", "t": 953, "v": 6.0, "lo": 5.5, "hi": 6.5},
      {"m": "W-SABR", "t": 957, "v": 5.1, "lo": 4.6, "hi": 5.6},
      {"m": "W-SABR", "t": 960, "v": 6.1, "lo": 5.6, "hi": 6.6},
      {"m": "W-SABR", "t": 964, "v": 5.9, "lo": 5.4, "hi": 6.4},
      {"m": "W-SABR", "t": 967, "v": 6.1, "lo": 5.6, "hi": 6.6},
      {"m": "W-SABR", "t": 968, "v": 8.0, "lo": 7.3, "hi": 8.7},
      {"m": "W-SABR", "t": 972, "v": 7.9, "lo": 7.4, "hi": 8.4},
      {"m": "W-SABR", "t": 974, "v": 9.5, "lo": 8.8, "hi": 10.2},
      {"m": "W-SABR", "t": 977.5, "v": 8.8, "lo": 8.1, "hi": 9.5},
      {"m": "W-SABR", "t": 982, "v": 8.2, "lo": 7.5, "hi": 8.9},
      {"m": "W-SABR", "t": 986, "v": 7.7, "lo": 7.2, "hi": 8.2},
      {"m": "W-SABR", "t": 988.5, "v": 6.8, "lo": 6.3, "hi": 7.3},
      {"m": "W-SABR", "t": 990, "v": 8.2, "lo": 7.5, "hi": 8.9},
      {"m": "W-SABR", "t": 994, "v": 8.0, "lo": 7.3, "hi": 8.7},
      {"m": "W-SABR", "t": 998, "v": 7.7, "lo": 7.2, "hi": 8.2},
      {"m": "W-SABR", "t": 1003, "v": 7.3, "lo": 6.8, "hi": 7.8},
      {"m": "W-SABR", "t": 1007, "v": 7.5, "lo": 7.0, "hi": 8.0},
      {"m": "W-SABR", "t": 1010, "v": 9.0, "lo": 8.3, "hi": 9.7},
      {"m": "W-SABR", "t": 1014, "v": 8.5, "lo": 7.8, "hi": 9.2},
      {"m": "W-SABR", "t": 1018, "v": 8.2, "lo": 7.5, "hi": 8.9},
      {"m": "W-SABR", "t": 1023, "v": 8.1, "lo": 7.4, "hi": 8.8},
      {"m": "W-SABR", "t": 1030, "v": 7.9, "lo": 7.4, "hi": 8.4},
      {"m": "W-SABR", "t": 1036, "v": 7.6, "lo": 7.1, "hi": 8.1},
      {"m": "W-SABR", "t": 1041, "v": 7.1, "lo": 6.6, "hi": 7.6},
      {"m": "W-SABR", "t": 1045, "v": 6.8, "lo": 6.3, "hi": 7.3},
      {"m": "W-SABR", "t": 1052, "v": 6.6, "lo": 6.1, "hi": 7.1},
      {"m": "W-SABR", "t": 1060, "v": 6.5, "lo": 6.0, "hi": 7.0},
      {"m": "W-SABR", "t": 1065, "v": 6.7, "lo": 6.2, "hi": 7.2},
      {"m": "W-SABR", "t": 1072, "v": 6.7, "lo": 6.2, "hi": 7.2},
      {"m": "W-SABR", "t": 1077, "v": 6.7, "lo": 6.2, "hi": 7.2},
      {"m": "W-SABR", "t": 1078, "v": 8.4, "lo": 7.7, "hi": 9.1},
      {"m": "W-SABR", "t": 1083, "v": 8.3, "lo": 7.6, "hi": 9.0},
      {"m": "W-SABR", "t": 1088, "v": 7.8, "lo": 7.3, "hi": 8.3},
      {"m": "W-SABR", "t": 1093, "v": 7.5, "lo": 7.0, "hi": 8.0},
      {"m": "W-SABR", "t": 1099, "v": 7.5, "lo": 7.0, "hi": 8.0}
    ]
  },
  "encoding": {
    "x": {
      "field": "t",
      "type": "quantitative",
      "scale": {"domain": [-53, 1154], "nice": false, "zero": false},
      "axis": {"values": [0, 200, 400, 600, 800, 1000], "format": "d"},
      "title": "Time step t"
    }
  },
  "layer": [
    {
      "transform": [{"filter": "datum.m == 'SABR'"}],
      "mark": {"type": "area", "color": "#FFA07A", "opacity": 0.1, "stroke": "#FFA07A", "strokeWidth": 3},
      "encoding": {
        "y": {"field": "lo", "type": "quantitative"},
        "y2": {"field": "hi"}
      }
    },
    {
      "transform": [{"filter": "datum.m == 'W-SABR'"}],
      "mark": {"type": "area", "color": "#3CB371", "opacity": 0.1, "stroke": "#3CB371", "strokeWidth": 3},
      "encoding": {
        "y": {"field": "lo", "type": "quantitative"},
        "y2": {"field": "hi"}
      }
    },
    {
      "mark": {"type": "line", "strokeWidth": 5.7, "strokeCap": "butt", "strokeJoin": "round"},
      "encoding": {
        "y": {
          "field": "v",
          "type": "quantitative",
          "scale": {"domain": [-1.31, 27.62], "nice": false, "zero": false},
          "axis": {"values": [0, 5, 10, 15, 20, 25]},
          "title": "Mean holding cost"
        },
        "color": {
          "field": "m",
          "type": "nominal",
          "title": null,
          "scale": {"domain": ["SABR", "W-SABR"], "range": ["#FFA07A", "#3CB371"]}
        },
        "strokeDash": {
          "field": "m",
          "type": "nominal",
          "title": null,
          "scale": {"domain": ["SABR", "W-SABR"], "range": [[1, 0], [38, 10, 6, 10]]}
        }
      }
    }
  ],
  "config": {
    "font": "DejaVu Sans",
    "view": {"stroke": "black", "strokeWidth": 3},
    "axis": {
      "grid": false,
      "domain": false,
      "ticks": true,
      "tickColor": "black",
      "tickWidth": 3,
      "tickSize": 13,
      "labelColor": "black",
      "labelFont": "DejaVu Sans",
      "labelFontSize": 60.6,
      "titleFont": "DejaVu Sans",
      "titleFontSize": 75.8,
      "titleFontWeight": "normal",
      "titleColor": "black",
      "labelFlush": false,
      "labelOverlap": false,
      "labelBound": false
    },
    "axisX": {"labelPadding": 15, "titlePadding": 14},
    "axisY": {"labelPadding": 14, "titlePadding": 19},
    "legend": {
      "orient": "none",
      "legendX": 877,
      "legendY": 35,
      "padding": 33,
      "cornerRadius": 14,
      "strokeColor": "#d6d6d6",
      "strokeWidth": 3.5,
      "fillColor": "white",
      "symbolType": "stroke",
      "symbolSize": 23000,
      "symbolStrokeWidth": 5.7,
      "clipHeight": 65,
      "rowPadding": 35,
      "labelFont": "DejaVu Sans",
      "labelFontSize": 74,
      "labelColor": "black",
      "labelLimit": 1000,
      "labelOffset": 52
    }
  }
}
